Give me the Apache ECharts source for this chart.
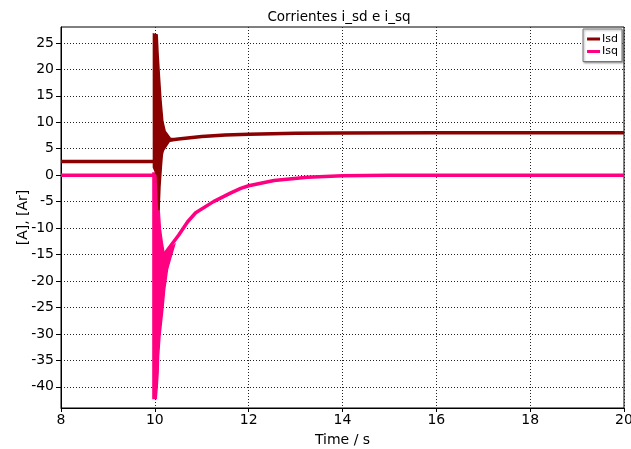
<!DOCTYPE html>
<html>
<head>
<meta charset="utf-8">
<title>Corrientes i_sd e i_sq</title>
<script src="https://cdn.jsdelivr.net/npm/echarts@6/dist/echarts.min.js"></script>
<style>
html, body { margin: 0; padding: 0; background: #fff; }
#chartsObj { width: 631px; height: 449px; }
</style>
</head>
<body>
<div id="chartsObj"></div>
<script>
// ejes
var xTicks = [8, 10, 12, 14, 16, 18, 20];
var yTicks = [-40, -35, -30, -25, -20, -15, -10, -5, 0, 5, 10, 15, 20, 25];

// Isd: traza media [t, valor]
var isdTrace = [
    [8, 2.6], [10.0, 2.6], [10.3, 6.6], [10.5, 6.85], [11, 7.3], [11.5, 7.6],
    [12, 7.75], [13, 7.9], [14, 7.95], [16, 8.0], [20, 8.0]
];
// Isd: envolventes de la oscilacion tras t = 10 s
var isdUpper = [
    [9.97, 26.7], [10.05, 26.5], [10.07, 22.8], [10.10, 18.4], [10.13, 14.3],
    [10.17, 10.2], [10.22, 8.3], [10.33, 7.0], [10.4, 6.9]
];
var isdLower = [
    [9.97, 1.5], [10.04, 0], [10.05, -6.5], [10.09, -6.5], [10.11, -2.1],
    [10.14, 1.7], [10.16, 3.9], [10.21, 5.8], [10.28, 6.4], [10.4, 6.6]
];

// Isq: traza media
var isqTrace = [
    [8, 0], [10.0, 0], [10.1, -20.0], [10.2, -15.0], [10.35, -13.2], [10.51, -11.3],
    [10.7, -8.8], [10.87, -7.1], [11.25, -5.0], [11.61, -3.4], [11.83, -2.5],
    [12, -2.0], [12.54, -1.0], [13.25, -0.4], [14, -0.1], [15, 0], [20, 0]
];
// Isq: envolventes
var isqUpper = [
    [9.96, 0.4], [10.06, 0.4], [10.08, -5], [10.12, -10.3], [10.16, -12.8],
    [10.19, -14.4], [10.21, -14.8]
];
var isqLower = [
    [9.96, -42.2], [10.03, -42.2], [10.05, -40], [10.07, -37.3], [10.08, -34.2],
    [10.11, -30.4], [10.17, -25.4], [10.21, -21.6], [10.27, -17.8], [10.33, -15.9],
    [10.42, -13.2]
];

var colorIsd = '#8b0000';
var colorIsq = '#ff0080';
var fontName = 'DejaVu Sans';

function bandSeries(name, upper, lower, color) {
    var pts = upper.concat(lower.slice().reverse());
    return {
        name: name,
        type: 'custom',
        silent: true,
        data: [[10, 0]],
        encode: { x: 0, y: 1 },
        renderItem: function (params, api) {
            return {
                type: 'polygon',
                shape: { points: pts.map(function (p) { return api.coord(p); }) },
                style: { fill: color, stroke: color, lineWidth: 1.5 }
            };
        }
    };
}

var splitStyle = { show: true, lineStyle: { color: '#222', type: [1, 2], width: 1 } };

var option = {
    animation: false,
    backgroundColor: '#fff',
    title: {
        text: 'Corrientes i_sd e i_sq',
        left: 339,
        textAlign: 'center',
        top: 10,
        padding: 0,
        textStyle: { fontFamily: fontName, fontSize: 13.5, fontWeight: 'normal', color: '#000' }
    },
    legend: {
        data: ['Isd', 'Isq'],
        orient: 'vertical',
        right: 9,
        top: 29,
        padding: [4, 4, 4, 4],
        itemGap: 0.5,
        itemWidth: 13,
        itemHeight: 3,
        icon: 'rect',
        backgroundColor: '#fff',
        borderColor: '#777',
        borderWidth: 1,
        borderRadius: 0,
        shadowColor: 'rgba(0,0,0,0.35)',
        shadowBlur: 2,
        shadowOffsetX: 1,
        shadowOffsetY: 1,
        textStyle: { fontFamily: fontName, fontSize: 11, color: '#000', lineHeight: 12, padding: [0, 0, 0, -3] }
    },
    grid: {
        left: 61, right: 7, top: 27, bottom: 41,
        outerBoundsMode: 'none',
        containLabel: false,
        show: true,
        borderColor: '#000',
        borderWidth: 1
    },
    xAxis: {
        type: 'value',
        min: xTicks[0],
        max: xTicks[xTicks.length - 1],
        interval: 2,
        name: 'Time / s',
        nameLocation: 'middle',
        nameGap: 25,
        nameTextStyle: { fontFamily: fontName, fontSize: 14, color: '#000' },
        axisLine: { onZero: false, lineStyle: { color: '#000', width: 1 } },
        axisTick: { show: true, inside: false, length: 4, lineStyle: { color: '#000' } },
        axisLabel: { fontFamily: fontName, fontSize: 14, color: '#000', margin: 5 },
        splitLine: splitStyle
    },
    yAxis: {
        type: 'value',
        min: -44,
        max: 28,
        name: '[A], [Ar]',
        nameLocation: 'middle',
        nameGap: 31,
        nameMoveOverlap: false,
        nameTextStyle: { fontFamily: fontName, fontSize: 14, color: '#000' },
        axisLine: { show: true, onZero: false, lineStyle: { color: '#000', width: 1 } },
        axisTick: { show: true, length: 5, customValues: yTicks, lineStyle: { color: '#000' } },
        axisLabel: { fontFamily: fontName, fontSize: 14, color: '#000', margin: 7, customValues: yTicks },
        splitLine: splitStyle
    },
    series: [
        {
            name: 'Isq',
            type: 'line',
            data: isqTrace,
            showSymbol: false,
            symbol: 'none',
            color: colorIsq,
            lineStyle: { color: colorIsq, width: 3.5 }
        },
        bandSeries('Isq band', isqUpper, isqLower, colorIsq),
        {
            name: 'Isd',
            type: 'line',
            data: isdTrace,
            showSymbol: false,
            symbol: 'none',
            color: colorIsd,
            lineStyle: { color: colorIsd, width: 3.5 }
        },
        bandSeries('Isd band', isdUpper, isdLower, colorIsd)
    ]
};

var chart = echarts.init(document.getElementById('chartsObj'));
chart.setOption(option);
</script>
</body>
</html>
